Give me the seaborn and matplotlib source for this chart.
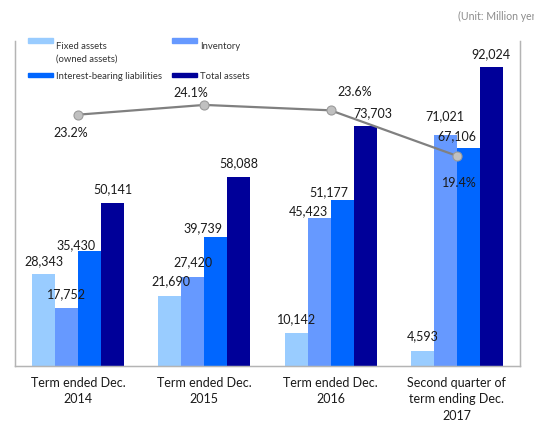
import matplotlib
matplotlib.use("Agg")
import matplotlib.pyplot as plt
import matplotlib.patches as mpatches
from matplotlib.legend_handler import HandlerPatch
import numpy as np
import pandas as pd
import seaborn as sns

# ---- data -------------------------------------------------------------
periods = [
    "Term ended Dec.\n2014",
    "Term ended Dec.\n2015",
    "Term ended Dec.\n2016",
    "Second quarter of\nterm ending Dec.\n2017",
]
series_names = ["Fixed assets", "Inventory", "Interest-bearing liabilities", "Total assets"]
fixed_assets = [28343, 21690, 10142, 4593]
inventory = [17752, 27420, 45423, 71021]
interest_bearing = [35430, 39739, 51177, 67106]
total_assets = [50141, 58088, 73703, 92024]
ratio_pct = [23.2, 24.1, 23.6, 19.4]

bar_colors = ["#99CCFF", "#6699FF", "#0066FF", "#000099"]

# label nudges in pixels (dx right, dy down) relative to each bar top / point
bar_label_nudge = [
    [(0, -13), (1, -14), (0, -14), (0, -15)],
    [(0, -14), (0, -15), (-11, -7), (0, -19)],
    [(-14, -6), (-13, -9), (-13, -8), (-12, -12)],
    [(0, -14), (0, -14), (8, -13), (0, -13)],
]
ratio_label_nudge = [(-7, 18), (-14, -12), (24, -18), (2, 27)]

df = pd.DataFrame({
    "period": np.repeat(periods, len(series_names)),
    "series": series_names * len(periods),
    "value": np.array([fixed_assets, inventory, interest_bearing, total_assets]).T.ravel(),
})

# ---- style -------------------------------------------------------------
sns.set_style("white")
plt.rcParams["font.family"] = ["Lato", "DejaVu Sans"]
DPI = 100
PX = 72.0 / DPI  # points per pixel
W, H = 534, 422
AXIS_GRAY = "#B4B4B4"

fig = plt.figure(figsize=(W / DPI, H / DPI), dpi=DPI)
ax = fig.add_axes([15 / W, (H - 366) / H, (520 - 15) / W, (366 - 41) / H])

sns.barplot(
    data=df, x="period", y="value", hue="series",
    order=periods, hue_order=series_names, palette=bar_colors,
    saturation=1, width=0.73, legend=False, ax=ax, linewidth=0,
)
ax.set_xlim(-0.5, len(periods) - 0.5)
ax.set_ylim(0, 100000)
ax.set_xlabel("")
ax.set_ylabel("")
ax.set_yticks([])

for s in ("left", "right", "bottom"):
    ax.spines[s].set_color(AXIS_GRAY)
    ax.spines[s].set_linewidth(1.0)
ax.spines["top"].set_visible(False)

ax.set_xticks(range(len(periods)))
ax.set_xticklabels(periods, fontsize=9, color="#1a1a1a", linespacing=1.42)
ax.set_xticks(np.arange(-0.5, len(periods), 1.0), minor=True)
ax.tick_params(axis="x", which="major", length=0, pad=8)
ax.tick_params(axis="x", which="minor", length=4, color=AXIS_GRAY, width=1)

# value labels on bars
for si, cont in enumerate(ax.containers):
    for pi, bar in enumerate(cont):
        v = bar.get_height()
        dx, dy = bar_label_nudge[si][pi]
        ax.annotate(
            f"{v:,.0f}",
            xy=(bar.get_x() + bar.get_width() / 2, v),
            xytext=(dx * PX, -dy * PX), textcoords="offset points",
            ha="center", va="center", fontsize=9, color="#1a1a1a",
        )

# ratio line on secondary axis
ax2 = ax.twinx()
sns.lineplot(
    x=np.arange(len(periods)), y=ratio_pct, ax=ax2,
    color="#808080", linewidth=1.6, marker="o", markersize=6.5,
    markerfacecolor="#C0C0C0", markeredgecolor="#9A9A9A", markeredgewidth=0.8,
)
ax2.set_ylim(0, 30)
ax2.set_yticks([])
ax2.set_ylabel("")
for s in ("left", "right", "bottom"):
    ax2.spines[s].set_color(AXIS_GRAY)
ax2.spines["top"].set_visible(False)

for i, v in enumerate(ratio_pct):
    dx, dy = ratio_label_nudge[i]
    ax2.annotate(
        f"{v:.1f}%", xy=(i, v), xytext=(dx * PX, -dy * PX),
        textcoords="offset points", ha="center", va="center",
        fontsize=9, color="#1a1a1a",
    )

# legend: thin swatches, aligned with the first line of each row
LEG_FS = 6.8
SW_H = 4.4 * PX
STEP = 12 * PX


def swatch(shift):
    def make(legend, orig_handle, xdescent, ydescent, width, height, fontsize):
        y = 0.36 * fontsize - SW_H / 2 + shift
        return mpatches.Rectangle((-xdescent, y), width, SW_H)
    return make


handles = [mpatches.Patch(color=bar_colors[i]) for i in (0, 2, 1, 3)]
labels = ["Fixed assets\n(owned assets)", "Interest-bearing liabilities", "Inventory\n", "Total assets"]
shifts = [STEP, 0, STEP, 0]
leg = ax2.legend(
    handles, labels, ncol=2, loc="upper left",
    bbox_to_anchor=((28 - 15) / (520 - 15), 1 - 1 / (366 - 41)),
    frameon=False, fontsize=LEG_FS, borderpad=0, borderaxespad=0,
    handlelength=25 * PX / LEG_FS, handletextpad=3 * PX / LEG_FS,
    columnspacing=10 * PX / LEG_FS, labelspacing=0.9,
    handler_map={h: HandlerPatch(patch_func=swatch(s)) for h, s in zip(handles, shifts)},
)
for t in leg.get_texts():
    t.set_color("#333333")
    t.set_linespacing(1.45)

fig.text(458 / W, 1 - 16 / H, "(Unit: Million yen)", fontsize=7.6,
         color="#8C8C8C", ha="left", va="center")

fig.savefig("out.png", dpi=DPI, facecolor="white")
